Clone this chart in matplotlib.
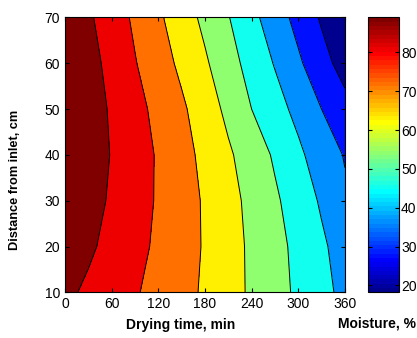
import numpy as np
import matplotlib
matplotlib.use('Agg')
from matplotlib import pyplot as plt
from matplotlib import cm, colors

plt.rcParams['font.family'] = ['Liberation Sans', 'DejaVu Sans']

# Grid
time_min = [0, 30, 60, 90, 120, 150, 180, 210, 240, 270, 300, 330, 360]
dist_cm = [10, 20, 30, 40, 50, 60, 70]

# Moisture, %  (one row per distance)
row_10 = [90.8, 87.5, 84.2, 80.9, 77.5, 73.9, 70.2, 65.7, 61.2, 56.7, 52.1, 47.3, 42.5]
row_20 = [94.4, 90.4, 86.5, 82.6, 78.7, 74.7, 70.6, 65.8, 61.0, 56.3, 51.4, 46.2, 40.9]
row_30 = [96.6, 92.3, 87.9, 83.6, 79.3, 74.9, 70.4, 65.3, 60.2, 54.9, 49.5, 43.7, 37.2]
row_40 = [97.9, 93.3, 88.6, 84.0, 79.3, 74.3, 69.1, 63.7, 58.2, 52.5, 46.5, 40.3, 35.4]
row_50 = [98.1, 93.1, 88.0, 82.9, 77.8, 72.7, 66.8, 60.4, 53.6, 48.1, 42.3, 35.9, 30.0]
row_60 = [97.9, 92.2, 86.4, 80.6, 75.1, 69.5, 63.6, 57.0, 50.4, 44.2, 37.3, 30.2, 23.5]
row_70 = [96.1, 90.3, 84.6, 78.7, 72.7, 66.6, 60.4, 54.0, 47.1, 40.2, 33.1, 26.0, 18.8]

# Contour levels and colour range
levels = [0, 27.05, 35.9, 44.75, 53.6, 62.45, 71.3, 80.15, 89.0, 100]
cmin, cmax = 18.2, 89.0
cbar_ticks = [20, 30, 40, 50, 60, 70, 80]

moist = np.array([row_10, row_20, row_30, row_40, row_50, row_60, row_70])
T, D = np.meshgrid(time_min, dist_cm)

# MATLAB style jet(64)
m = 64
n = m // 4
u = np.concatenate([np.arange(1, n + 1) / n, np.ones(n - 1), np.arange(n, 0, -1) / n])
g = n // 2 + np.arange(len(u))
J = np.zeros((m, 3))
for col, idx in enumerate([g + n, g, g - n]):
    ok = (idx >= 0) & (idx < m)
    J[idx[ok], col] = u[ok]
jet = colors.ListedColormap(J)

# each band takes the colour of its lower level (MATLAB contourf)
fills = [J[min(int(k / 8.0 * m), m - 1)] for k in range(len(levels) - 1)]

fig = plt.figure(figsize=(4.17, 3.38), dpi=100)
ax = fig.add_axes([0.156, 0.135, 0.671, 0.8136])
cax = fig.add_axes([0.8825, 0.135, 0.0743, 0.8136])

# Filled contours with black lines
ax.contourf(T, D, moist, levels=levels, colors=fills)
ax.contour(T, D, moist, levels=levels[1:-1], colors='k', linewidths=0.7)

ax.set_xlim(0, 360)
ax.set_ylim(10, 70)
ax.set_xticks([0, 60, 120, 180, 240, 300, 360])
ax.set_yticks([10, 20, 30, 40, 50, 60, 70])
ax.tick_params(direction='in', top=True, right=True, labelsize=10, length=3)
ax.set_xlabel('Drying time, min', fontsize=10, fontweight='bold', va='top')
ax.set_ylabel('Distance from inlet, cm', fontsize=9.2, fontweight='bold')
ax.xaxis.set_label_coords(0.414, -0.095)
ax.yaxis.set_label_coords(-0.158, 0.408)

# Colour bar
sm = cm.ScalarMappable(norm=colors.Normalize(cmin, cmax), cmap=jet)
cb = fig.colorbar(sm, cax=cax, ticks=cbar_ticks)
cax.tick_params(direction='in', left=True, right=True, labelsize=10, length=3, pad=1.5)
cb.outline.set_linewidth(0.8)
fig.text(0.905, 0.03, 'Moisture, %', fontsize=10, fontweight='bold', ha='center')

fig.savefig('out.png', dpi=100)
